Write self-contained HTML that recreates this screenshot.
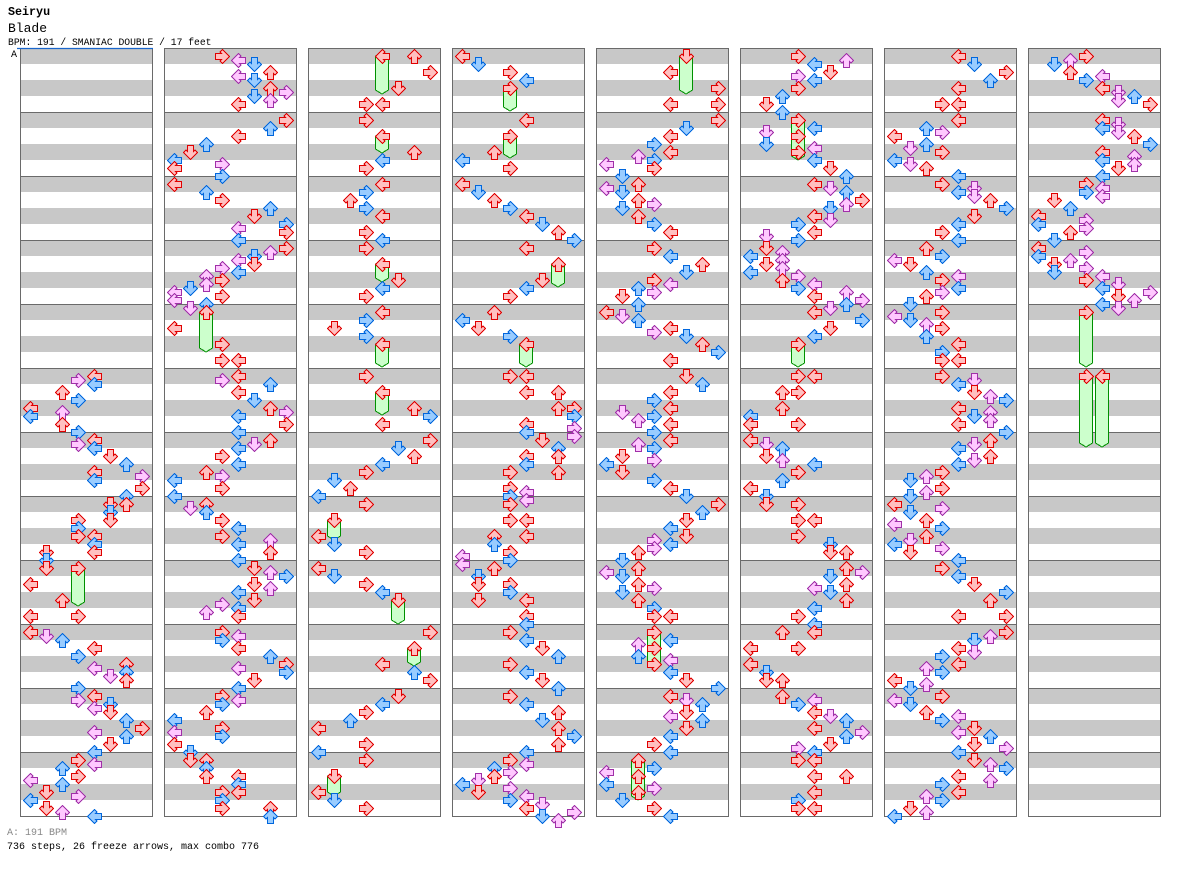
<!DOCTYPE html>
<html><head><meta charset="utf-8">
<style>
html,body{margin:0;padding:0;background:#fff;}
svg{display:block;}
.r{fill:#ffc0c0;stroke:#e00000;stroke-width:1;shape-rendering:crispEdges;}
.b{fill:#99ccff;stroke:#0066dd;stroke-width:1;shape-rendering:crispEdges;}
.p{fill:#ffc8ff;stroke:#a030a8;stroke-width:1;shape-rendering:crispEdges;}
.f{fill:#ccffcc;stroke:#009000;stroke-width:1;shape-rendering:crispEdges;}
text{font-family:"Liberation Mono",monospace;}
</style></head>
<body>
<svg id="s" xmlns="http://www.w3.org/2000/svg" width="1184" height="876" viewBox="0 0 1184 876">
<defs><polygon id="L" points="1,8 8,1 10.5,3.5 9,5 15,5 15,11 9,11 10.5,12.5 8,15"/></defs>
<rect width="1184" height="876" fill="#fff"/>
<text x="8" y="15" font-size="11.7" font-weight="bold" fill="#000">Seiryu</text>
<text x="8" y="32" font-size="13" fill="#000">Blade</text>
<text x="8" y="45" font-size="9.7" fill="#000">BPM: 191 / SMANIAC DOUBLE / 17 feet</text>
<text x="11" y="57" font-size="10" fill="#000">A</text>
<text x="7" y="835" font-size="10" fill="#888">A: 191 BPM</text>
<text x="7" y="849" font-size="10" fill="#000">736 steps, 26 freeze arrows, max combo 776</text>
<g id="cols"></g>
</svg>
<script>
var D=[
"80,4 81,3 82,4 84,2 86,3 88,0 90,0 89,2 92,2 94,3 96,4 97,3 98,4 100,5 102,6 105,7 104,4 106,4 108,7 110,6 112,6 112,5 114,5 116,5 116,3 118,3 120,3 120,4 122,4 124,4 124,1 126,1 128,1 128,3 132,0 136,2 140,0 140,3 144,0 145,1 146,2 150,3 148,4 153,4 155,5 152,6 154,6 156,6 158,3 161,3 160,4 163,4 162,5 164,5 166,6 168,7 170,6 169,4 172,5 174,4 177,4 176,3 178,2 180,3 182,2 181,0 184,1 185,3 186,0 188,1 189,2 190,4",
"0,3 1,4 2,5 5,4 4,6 6,5 8,6 9,7 10,5 11,6 12,4 16,7 18,6 20,4 22,2 24,1 26,0 27,3 28,0 30,3 32,0 34,2 36,3 38,6 40,5 42,7 44,7 43,4 46,4 48,7 49,6 50,5 52,5 51,4 53,3 54,4 56,3 55,2 57,2 58,1 59,0 61,0 60,3 62,2 63,1 64,2 68,0 72,3 76,3 76,4 80,4 81,3 82,6 84,4 86,5 88,6 89,7 90,4 92,7 94,4 96,6 97,5 98,4 100,3 102,4 104,2 105,3 106,0 108,3 110,0 113,1 112,2 114,2 116,3 118,4 120,3 122,4 121,6 124,6 126,4 128,5 129,6 130,7 132,5 133,6 134,4 136,5 137,3 138,4 139,2 140,4 144,3 145,4 146,3 148,4 150,6 152,7 153,4 154,7 156,5 158,4 160,3 161,4 162,3 164,2 166,0 168,3 169,0 170,3 172,0 174,1 176,1 176,2 178,2 180,2 180,4 182,4 184,4 184,3 186,3 188,3 188,6 190,6",
"0,4 0,6 4,7 8,5 12,3 12,4 16,3 20,4 24,6 26,4 28,3 32,4 34,3 36,2 38,3 40,4 44,3 46,4 48,3 52,4 56,5 58,4 60,3 64,4 66,3 68,1 70,3 72,4 80,3 84,4 88,6 90,7 92,4 96,7 98,5 100,6 102,4 104,3 106,1 108,2 110,0 112,3 116,1 120,0 122,1 124,3 128,0 130,1 132,3 134,4 136,5 144,7 148,6 152,4 154,6 156,7 160,5 162,4 164,3 166,2 168,0 172,3 174,0 176,3 180,1 184,0 186,1 188,3",
"0,0 2,1 4,3 6,4 8,3 16,4 20,3 24,2 26,0 28,3 32,0 34,1 36,2 38,3 40,4 42,5 44,6 46,7 48,4 52,6 56,5 58,4 60,3 64,2 66,0 68,1 70,3 72,4 80,3 80,4 84,4 84,6 88,6 88,7 90,7 92,4 93,7 94,4 95,7 96,5 98,6 100,6 100,4 102,4 104,6 104,3 108,3 109,4 110,3 111,4 112,3 116,3 116,4 120,4 120,2 122,2 124,3 125,0 126,3 127,0 128,2 130,1 132,3 132,1 134,3 136,1 136,4 140,4 142,4 144,3 146,4 148,5 150,6 152,3 154,4 156,5 158,6 160,3 162,4 164,6 166,5 168,6 170,7 172,6 174,4 176,3 177,4 178,2 179,3 180,2 181,1 182,0 184,1 183,3 186,3 185,4 188,4 187,5 190,5 191,6 189,7",
"0,5 4,4 8,7 12,4 12,7 16,7 18,5 20,4 22,3 24,4 25,2 26,3 27,0 28,3 30,1 32,2 33,0 34,1 36,2 37,3 38,1 40,2 42,3 44,4 48,3 50,4 52,6 54,5 56,3 57,4 58,2 59,3 60,1 62,2 64,0 65,1 66,2 68,4 69,3 70,5 72,6 74,7 76,4 80,5 82,6 84,4 86,3 88,4 89,1 90,3 91,2 92,4 94,3 96,4 97,2 98,3 100,1 101,3 102,0 104,1 106,3 108,4 110,5 112,7 114,6 116,5 120,5 118,4 121,3 123,3 122,4 124,2 126,1 128,2 129,0 130,1 132,2 133,3 134,1 136,2 138,3 140,3 140,4 144,3 148,3 152,3 146,4 147,2 150,2 151,4 154,4 156,5 158,7 160,4 161,5 162,6 164,5 165,4 166,6 168,5 170,4 172,3 174,4 176,2 180,2 184,2 178,3 179,0 182,0 183,3 186,1 188,3 190,4",
"0,3 2,4 1,6 4,5 5,3 6,4 8,3 10,2 12,1 14,2 16,3 20,3 24,3 18,4 19,1 22,1 23,4 26,4 28,5 30,6 32,4 33,5 34,6 36,7 37,6 38,5 40,4 41,5 42,3 44,4 45,1 46,3 48,1 49,2 50,0 51,2 52,1 53,2 54,0 55,3 56,2 57,4 58,3 59,6 60,4 61,7 62,6 63,5 64,4 66,7 68,5 70,4 72,3 80,3 80,4 84,2 84,3 88,2 90,0 92,0 92,3 96,0 97,1 98,2 100,1 101,2 102,4 104,3 106,2 108,0 110,1 112,1 112,3 116,3 116,4 120,3 122,5 124,5 124,6 128,6 129,7 130,5 132,6 133,4 134,5 136,6 138,4 140,3 142,4 144,2 144,4 148,0 148,3 152,0 154,1 156,1 156,2 160,2 161,4 162,3 164,4 165,5 166,6 168,4 169,7 170,6 172,5 173,3 174,4 176,3 176,4 180,4 180,6 184,4 186,3 188,3 188,4",
"0,4 2,5 4,7 6,6 8,4 12,3 12,4 16,4 18,2 19,3 20,0 22,2 23,1 24,3 26,0 27,1 28,2 30,4 32,3 33,5 34,4 35,5 36,6 38,7 40,5 42,4 44,3 46,4 48,2 50,3 51,0 52,1 54,2 55,4 56,3 58,4 59,3 60,2 62,1 64,3 65,0 66,1 67,2 68,3 70,2 72,4 74,3 76,3 76,4 80,3 81,5 82,4 84,5 85,6 86,7 88,4 89,6 90,5 91,6 92,4 94,7 96,6 97,5 98,4 100,6 101,5 102,4 104,3 105,2 106,1 108,3 109,2 110,1 112,0 113,3 114,1 116,2 117,0 118,3 120,2 121,1 122,0 123,3 124,1 126,4 128,3 130,4 132,5 134,7 136,6 140,4 140,7 144,7 145,6 146,5 148,4 149,5 150,3 152,4 153,2 154,3 156,0 157,2 158,1 160,3 161,0 162,1 164,2 165,4 166,3 168,5 169,4 170,6 172,5 173,7 174,4 176,5 177,6 178,7 180,4 181,6 182,3 184,4 185,2 186,3 188,1 189,2 190,0",
"0,3 1,2 2,1 4,2 5,4 6,3 8,4 9,5 10,6 11,5 12,7 16,4 17,5 18,4 19,5 20,6 22,7 24,4 25,6 26,4 27,6 28,5 30,4 32,3 33,4 34,3 35,4 36,1 38,2 40,0 41,3 42,0 43,3 44,2 46,1 48,0 49,3 50,0 51,2 52,1 53,3 54,1 55,4 56,3 57,5 58,4 59,7 60,5 61,6 62,4 63,5 64,3 80,3 80,4"
];
var F=[[0,3,128,558],[1,2,64,304],[2,4,0,46],[2,4,20,105],[2,4,52,234],[2,4,72,319],[2,4,84,367],[2,1,116,492],[2,5,136,576],[2,6,148,618],[2,1,180,748],[3,3,8,63],[3,3,20,110],[3,6,52,239],[3,4,72,319],[4,5,0,46],[4,3,144,618],[4,2,176,752],[5,3,16,112],[5,3,72,319],[7,3,64,319],[7,3,80,399],[7,4,80,399]];
var h='';
var k,m;
for(k=0;k<8;k++){
  var x0=20+144*k;
  for(m=0;m<12;m++){
    var y=48+64*m;
    h+='<rect x="'+x0+'" y="'+y+'" width="132" height="16" fill="#c8c8c8"/>';
    h+='<rect x="'+x0+'" y="'+(y+32)+'" width="132" height="16" fill="#c8c8c8"/>';
    if(m>0) h+='<line x1="'+x0+'" y1="'+(y+0.5)+'" x2="'+(x0+132)+'" y2="'+(y+0.5)+'" stroke="#6a6a6a" stroke-width="1"/>';
  }
  h+='<rect x="'+(x0+0.5)+'" y="48.5" width="132" height="768" fill="none" stroke="#6a6a6a" stroke-width="1"/>';
}
h+='<line x1="17" y1="48.5" x2="153" y2="48.5" stroke="#1a66cc" stroke-width="1.2"/>';
var i;
for(i=0;i<F.length;i++){
  var f=F[i];var x=20+144*f[0]+2+16*f[1];var yc=48+4*f[2]+8;var yb=48+f[3];
  var x1=x+1.5,x2=x+14.5;
  h+='<polygon class="f" points="'+x1+','+yc+' '+x2+','+yc+' '+x2+','+(yb-4)+' '+(x+8)+','+yb+' '+x1+','+(yb-4)+'"/>';
}
var rots=[0,270,90,180];
for(k=0;k<8;k++){
  var items=D[k].split(' ');
  var arr=[];
  for(i=0;i<items.length;i++){var p=items[i].split(',');arr.push([+p[0],+p[1]]);}
  arr.sort(function(a,b){return a[0]-b[0];});
  for(i=0;i<arr.length;i++){
    var u=arr[i][0],l=arr[i][1];
    var c=(u%4==0)?'r':((u%2==0)?'b':'p');
    var x=20+144*k+2+16*l+0.5;var y=48+4*u+0.5;
    h+='<use href="#L" class="'+c+'" transform="translate('+x+','+y+') rotate('+rots[l%4]+' 8 8)"/>';
  }
}
document.getElementById('cols').innerHTML=h;
</script>
</body></html>
